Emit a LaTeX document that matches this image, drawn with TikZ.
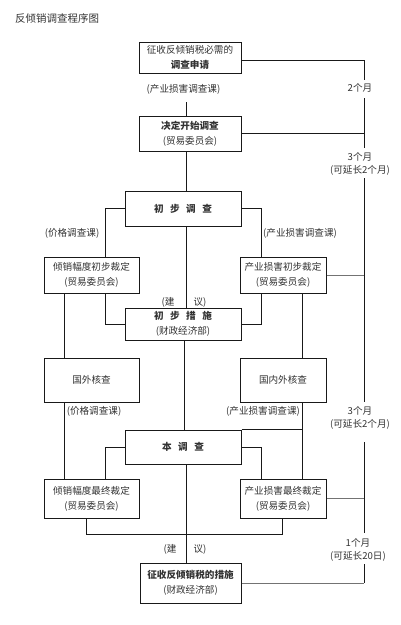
\documentclass[tikz,border=0pt]{standalone}
\usepackage{fontspec}
\setmainfont{Noto Sans CJK SC}
\newcommand{\gapsp}{\hspace{6.5pt}}
\begin{document}
\begin{tikzpicture}[x=1pt,y=-1pt,
  box/.style={draw=black!90, line width=1pt, fill=white, inner sep=0pt, align=center,
    font=\fontsize{9.6}{15}\selectfont, text=black!80},
  wbox/.style={box, minimum width=95pt},
  rbox/.style={box, minimum width=86pt},
  cbox/.style={box, minimum width=116pt},
  lab/.style={font=\fontsize{9.6}{13}\selectfont, text=black!80, inner sep=0pt, align=center},
  ln/.style={line width=1pt, black!90},
  thin/.style={line width=0.7pt, black!55}]
\useasboundingbox[fill=white] (0,0) rectangle (400,625);
% title
\node[lab, anchor=west, font=\fontsize{10.5}{13}\selectfont] (title) at (15,18) {反倾销调查程序图};
% boxes
\node[box, minimum width=102pt, minimum height=31pt] (b1) at (190,57.5) {征收反倾销税必需的\\\textbf{调查申请}};
\node[box, minimum width=102pt, minimum height=35pt] (b2) at (190,133.5) {\textbf{决定开始调查}\\(贸易委员会)};
\node[cbox, minimum height=35pt] (b3) at (183,208.5) {\textbf{初\gapsp 步\gapsp 调\gapsp 查}};
\node[wbox, minimum height=36pt] (b4) at (91.5,275) {倾销幅度初步裁定\\(贸易委员会)};
\node[rbox, minimum height=36pt] (b5) at (283,275) {产业损害初步裁定\\(贸易委员会)};
\node[cbox, minimum height=32pt] (b6) at (183,324) {\textbf{初\gapsp 步\gapsp 措\gapsp 施}\\(财政经济部)};
\node[wbox, minimum height=44pt] (b7) at (91.5,380) {国外核查};
\node[rbox, minimum height=44pt] (b8) at (283,380) {国内外核查};
\node[cbox, minimum height=34pt] (b9) at (183,447) {\textbf{本\gapsp 调\gapsp 查}};
\node[wbox, minimum height=39pt] (b10) at (91.5,498.5) {倾销幅度最终裁定\\(贸易委员会)};
\node[rbox, minimum height=39pt] (b11) at (283,498.5) {产业损害最终裁定\\(贸易委员会)};
\node[box, minimum width=101pt, minimum height=40pt] (b12) at (190.5,583) {\textbf{征收反倾销税的措施}\\(财政经济部)};
% labels
\node[lab] (l1) at (183.5,89) {(产业损害调查课)};
\node[lab] (l2) at (72,233) {(价格调查课)};
\node[lab] (l3) at (300,233) {(产业损害调查课)};
\node[lab] (l4a) at (168,302) {(建};
\node[lab] (l4b) at (200,302) {议)};
\node[lab] (l5) at (94,411) {(价格调查课)};
\node[lab] (l6) at (263,411) {(产业损害调查课)};
\node[lab] (l7a) at (170,549) {(建};
\node[lab] (l7b) at (200,549) {议)};
\node[lab] (t1) at (360,88) {2个月};
\node[lab] (t2) at (360,163.5) {3个月\\(可延长2个月)};
\node[lab] (t3) at (360,417.5) {3个月\\(可延长2个月)};
\node[lab] (t4) at (358,549.5) {1个月\\(可延长20日)};
% coordinates
\coordinate (cx) at (186,0);
\coordinate (cx2) at (184,0);
\coordinate (xl) at (105,0);
\coordinate (xr) at (261,0);
\coordinate (xo) at (64,0);
\coordinate (xo2) at (302,0);
\coordinate (c1) at (186,102);
\coordinate (p86) at (86,534);
\coordinate (p282) at (282,534);
\coordinate (r1) at (364,60);
\coordinate (r1e) at (364,80);
\coordinate (r2s) at (364,98);
\coordinate (r2e) at (364,148);
\coordinate (r3s) at (364,178);
\coordinate (r3e) at (364,402);
\coordinate (r4s) at (364,442);
\coordinate (r4e) at (364,533);
\coordinate (r5s) at (364,564);
\coordinate (xR) at (364,0);
% center line
\draw[ln] (c1) -- (c1 |- b2.north);
\draw[ln] (cx |- b2.south) -- (cx |- b3.north);
\draw[ln] (cx |- b3.south) -- (cx |- b6.north);
\draw[ln] (cx2 |- b6.south) -- (cx2 |- b9.north);
\draw[ln] (cx |- b9.south) -- (cx |- b12.north);
% branches
\draw[ln] (b3.west) -| (xl |- b4.north);
\draw[ln] (b3.east) -| (xr |- b5.north);
\draw[ln] (xl |- b4.south) |- (b6.west);
\draw[ln] (xr |- b5.south) |- (b6.east);
\draw[ln] (xo |- b4.south) -- (xo |- b7.north);
\draw[ln] (xo |- b7.south) -- (xo |- b10.north);
\draw[ln] (xo2 |- b5.south) -- (xo2 |- b8.north);
\draw[ln] (xo2 |- b8.south) -- (xo2 |- b11.north);
\draw[ln] (b9.north east) -- (xo2 |- b9.north);
\draw[ln] (b9.west) -| (xl |- b10.north);
\draw[ln] (b9.east) -| (xr |- b11.north);
\draw[ln] (p86 |- b10.south) -- (p86) -- (p282) -- (p282 |- b11.south);
% right time line
\draw[ln] (r1 -| b1.east) -- (r1) -- (r1e);
\draw[ln] (r2s) -- (r2e);
\draw[ln] (b2.east) -- (xR |- b2.east);
\draw[ln] (r3s) -- (r3e);
\draw[ln] (r4s) -- (r4e);
\draw[ln] (r5s) -- (xR |- b12.east);
\draw[thin] (b5.east) -- (xR |- b5.east);
\draw[thin] (b11.east) -- (xR |- b11.east);
\draw[thin] (b12.east) -- (xR |- b12.east);
\end{tikzpicture}
\end{document}
